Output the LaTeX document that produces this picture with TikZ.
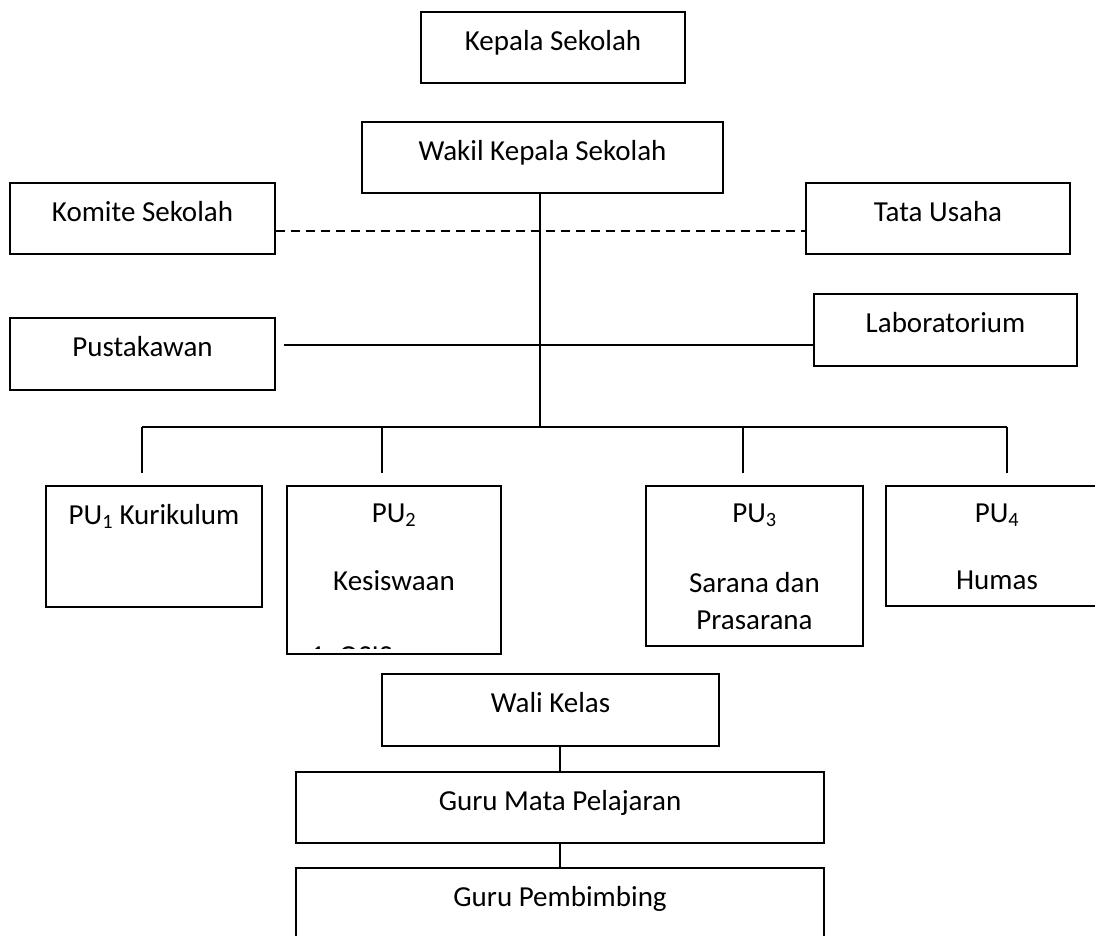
\documentclass[tikz,border=0pt]{standalone}
\usepackage{fontspec}
\setmainfont{Carlito}
\usetikzlibrary{positioning,fit}

\begin{document}
\begin{tikzpicture}[
		x=1pt, y=-1pt,
		every node/.style={font=\fontsize{29}{37}\selectfont},
		unit/.style={draw, line width=1.6pt, inner sep=0pt},
		boxtext/.style={anchor=north, align=center, inner sep=0pt,
			label distance=-18pt, execute at begin node={\rule{0pt}{21pt}}},
		link/.style={line width=1.3pt}
		]
		
		\useasboundingbox (0,0) rectangle (1095,936);
		\clip (0,0) rectangle (1095,936);
		
		% pimpinan
		\node[unit, fit={(421,12) (685,83)}, label={[boxtext]north:{Kepala Sekolah}}] (kepala) {};
		\node[unit, fit={(362,122) (723,193)}, label={[boxtext]north:{Wakil Kepala Sekolah}}] (wakil) {};
		
		% samping
		\node[unit, fit={(10,183) (275,254)}, label={[boxtext]north:{Komite Sekolah}}] (komite) {};
		\node[unit, fit={(806,183) (1070,254)}, label={[boxtext]north:{Tata Usaha}}] (tu) {};
		\node[unit, fit={(10,318) (275,390)}, label={[boxtext]north:{Pustakawan}}] (pustaka) {};
		\node[unit, fit={(814,294) (1077,366)}, label={[boxtext]north:{Laboratorium}}] (lab) {};
		
		% pembantu urusan
		\node[unit, fit={(46,486) (262,607)}, label={[boxtext]north:{PU\textsubscript{1} Kurikulum}}] (pu1) {};
		\node[unit, fit={(287,486) (501,654)}, label={[boxtext]north:{PU\textsubscript{2}\\[31pt]Kesiswaan}}] (pu2) {};
		\node[unit, fit={(646,486) (863,646)}, label={[boxtext]north:{PU\textsubscript{3}\\[33pt]Sarana dan\\Prasarana}}] (pu3) {};
		\node[unit, fit={(886,486) (1108,606)}, label={[boxtext]north:{PU\textsubscript{4}\\[30pt]Humas}}] (pu4) {};
		
		\begin{scope}
			\clip (pu2.north west) rectangle ([yshift=6pt]pu2.south east);
			\node[anchor=base west, inner sep=0pt] (osis) at (310,665) {1.\hspace{7pt}OSIS};
		\end{scope}
		
		% guru
		\node[unit, fit={(382,674) (719,746)}, label={[boxtext]north:{Wali Kelas}}] (wali) {};
		\node[unit, fit={(296,772) (824,843)}, label={[boxtext]north:{Guru Mata Pelajaran}}] (gmp) {};
		\node[unit, fit={(296,868) (824,960)}, label={[boxtext]north:{Guru Pembimbing}}] (gp) {};
		
		\coordinate (hub) at (540,427);
		\coordinate (b1) at (142,427);
		\coordinate (b2) at (382,427);
		\coordinate (b3) at (743,427);
		\coordinate (b4) at (1007,427);
		
		\draw[link] (wakil.south -| hub) -- (hub);
		\draw[link] (b1) -- (b4);
		\foreach \i in {1,...,4}
			\draw[link, shorten >=12pt] (b\i) -- (b\i |- pu\i.north);
		
		\draw[link, dash pattern=on 9pt off 6pt] ([yshift=-12.5pt]komite.east) -- ([yshift=-12.5pt]komite.east -| tu.west);
		\draw[link, shorten <=8pt] ([yshift=9pt]pustaka.east) -- ([yshift=9pt]pustaka.east -| lab.west);
		
		\draw[link] (gmp.north) -- (gmp.north |- wali.south);
		\draw[link] (gmp.south) -- (gp.north);
		
	\end{tikzpicture}
\end{document}
